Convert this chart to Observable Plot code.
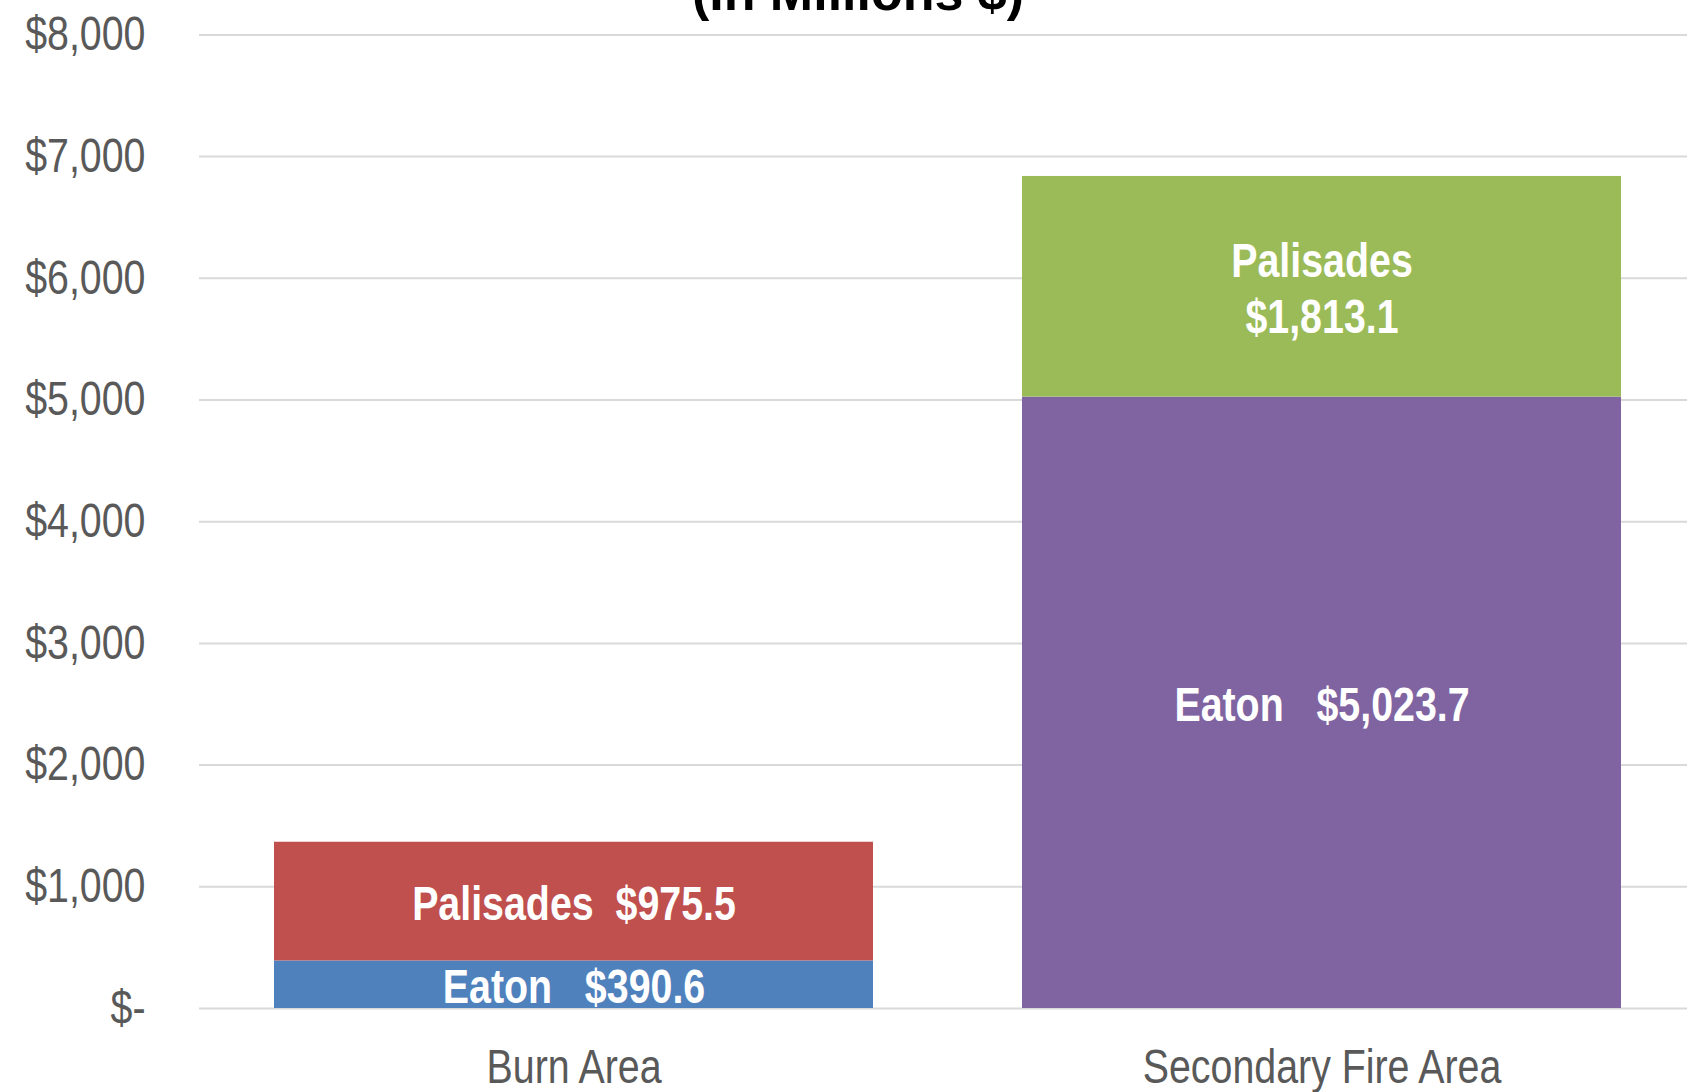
<!DOCTYPE html>
<html>
<head>
<meta charset="utf-8">
<script src="https://cdn.jsdelivr.net/npm/d3@7"></script>
<script src="https://cdn.jsdelivr.net/npm/@observablehq/plot@0.6"></script>
<style>
  html, body { margin: 0; padding: 0; background: #fff; overflow: hidden; }
  #wrap { position: relative; width: 1687px; height: 1092px; }
  #title { position: absolute; top: -33px; left: 0; width: 1716px; text-align: center;
           font: bold 52px/50px "Liberation Sans", Arial, sans-serif; color: #000; white-space: nowrap; z-index: 2; }
</style>
</head>
<body>
<div id="wrap">
  <div id="title">(In Millions $)</div>
  <div id="chart"></div>
</div>
<script>
const categories = ["Burn Area", "Secondary Fire Area"];
const fires = ["Eaton", "Palisades"];
const eatonValues = [390.6, 5023.7];
const palisadesValues = [975.5, 1813.1];
const yTicks = [0, 1000, 2000, 3000, 4000, 5000, 6000, 7000, 8000];

const seriesValues = {Eaton: eatonValues, Palisades: palisadesValues};
const data = [];
categories.forEach((c, i) => fires.forEach(f => data.push({category: c, fire: f, value: seriesValues[f][i]})));

const keyOf = d => d.category + " | " + d.fire;
const colorDomain = ["Burn Area | Eaton", "Burn Area | Palisades", "Secondary Fire Area | Eaton", "Secondary Fire Area | Palisades"];
const colorRange = ["#4f81bd", "#c0504d", "#8064a2", "#9bbb59"];

const money = d3.format("$,.1f");
const nb = "\u00a0";
const labelOf = d => {
  if (d.category === "Secondary Fire Area" && d.fire === "Palisades") return d.fire + "\n" + money(d.value);
  return d.fire + (d.fire === "Eaton" ? nb + nb + nb : nb + nb) + money(d.value);
};

const font = "'Liberation Sans', Arial, sans-serif";

const chart = Plot.plot({
  width: 1687,
  height: 1092,
  marginLeft: 199,
  marginRight: 0,
  marginTop: 34.4,
  marginBottom: 84,
  style: {fontFamily: font, fontSize: "48px", color: "#595959", background: "#fff", overflow: "visible"},
  x: {domain: categories, range: [199, 1697], paddingInner: 0.199, paddingOuter: 0.1, label: null},
  y: {domain: [0, 8000], label: null},
  color: {domain: colorDomain, range: colorRange},
  marks: [
    Plot.gridY(yTicks, {stroke: "#d9d9d9", strokeOpacity: 1, strokeWidth: 2}),
    Plot.barY(data, Plot.stackY({x: "category", y: "value", fill: keyOf})),
    Plot.text(data, Plot.stackY({x: "category", y: "value", text: labelOf, fill: "white",
      fontWeight: "bold", fontSize: 48, lineHeight: 1.17, fontFamily: font})),
    Plot.axisY(yTicks, {tickSize: 0, tickPadding: 54, fontSize: 48, label: null,
      tickFormat: d => d === 0 ? "$-" : d3.format("$,")(d)}),
    Plot.axisX({tickSize: 0, tickPadding: 40, fontSize: 48, label: null})
  ]
});
document.getElementById("chart").appendChild(chart);

// Narrow the glyphs horizontally (condensed face like the original), keeping each text's anchor in place.
const squeeze = 0.82;
chart.querySelectorAll("text").forEach(el => {
  const bb = el.getBBox();
  const anchor = getComputedStyle(el).textAnchor;
  const ax = anchor === "end" ? bb.x + bb.width : anchor === "start" ? bb.x : bb.x + bb.width / 2;
  const prev = el.getAttribute("transform") || "";
  el.setAttribute("transform", `${prev} translate(${ax},0) scale(${squeeze},1) translate(${-ax},0)`.trim());
});
</script>
</body>
</html>
